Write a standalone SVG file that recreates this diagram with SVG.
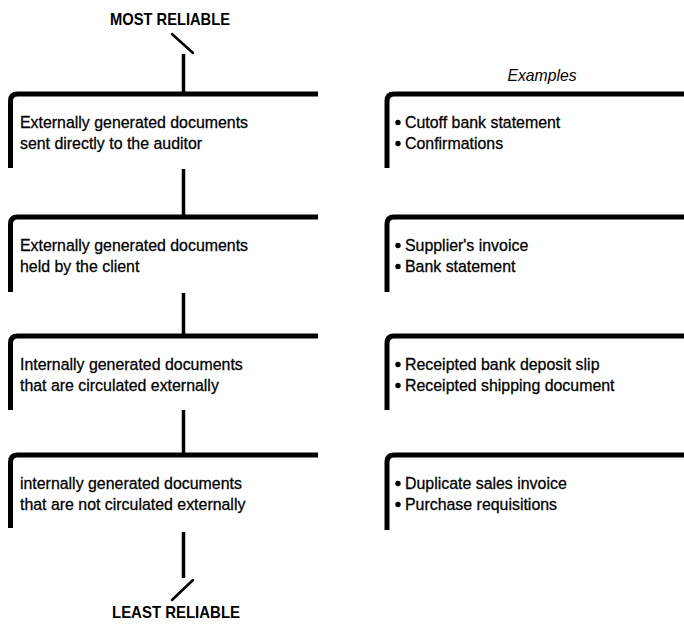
<svg xmlns="http://www.w3.org/2000/svg" width="684" height="624" viewBox="0 0 684 624">
  <style>
    .bg { fill: #ffffff; }
    .frame { fill: none; stroke: #000; stroke-width: 5; stroke-linecap: butt; stroke-linejoin: round; }
    .link { fill: none; stroke: #000; stroke-width: 3.5; stroke-linecap: butt; }
    .tick { fill: none; stroke: #000; stroke-width: 2.5; stroke-linecap: round; }
    .txt { font-family: "Liberation Sans", Arial, sans-serif; font-size: 17.3px; fill: #000; stroke: #000; stroke-width: 0.3; }
    .head { font-family: "Liberation Sans", Arial, sans-serif; font-size: 17px; font-weight: bold; fill: #000; text-anchor: middle; }
    .caption { font-family: "Liberation Sans", Arial, sans-serif; font-size: 17px; font-style: italic; fill: #000; text-anchor: middle; }
    .dot { fill: #000; }
  </style>
  <rect class="bg" x="0" y="0" width="684" height="624"/>

  <!-- scale end labels -->
  <g id="most-reliable">
    <text class="head" x="170" y="25" textLength="120" lengthAdjust="spacingAndGlyphs">MOST RELIABLE</text>
  </g>
  <g id="least-reliable">
    <text class="head" x="176" y="618" textLength="128" lengthAdjust="spacingAndGlyphs">LEAST RELIABLE</text>
  </g>
  <g id="examples-caption">
    <text class="caption" x="542" y="81" textLength="69" lengthAdjust="spacingAndGlyphs">Examples</text>
  </g>

  <!-- vertical ranking line -->
  <g id="connectors">
    <line class="tick" x1="172" y1="34" x2="193" y2="53"/>
    <line class="link" x1="183.5" y1="54" x2="183.5" y2="94"/>
    <line class="link" x1="183.5" y1="169" x2="183.5" y2="217"/>
    <line class="link" x1="183.5" y1="293" x2="183.5" y2="336"/>
    <line class="link" x1="183.5" y1="410" x2="183.5" y2="455"/>
    <line class="link" x1="183.5" y1="532" x2="183.5" y2="578"/>
    <line class="tick" x1="193" y1="580" x2="172" y2="600"/>
  </g>

  <!-- document categories (text set slightly condensed: x / 0.92) -->
  <g id="level-1">
    <path class="frame" d="M10.5,168 L10.5,101 Q10.5,94 17.5,94 L318,94"/>
    <g transform="scale(0.92 1)">
      <text class="txt" x="21.7" y="128">Externally generated documents</text>
      <text class="txt" x="21.7" y="149">sent directly to the auditor</text>
    </g>
  </g>
  <g id="level-2">
    <path class="frame" d="M10.5,292 L10.5,224 Q10.5,217 17.5,217 L318,217"/>
    <g transform="scale(0.92 1)">
      <text class="txt" x="21.7" y="251">Externally generated documents</text>
      <text class="txt" x="21.7" y="272">held by the client</text>
    </g>
  </g>
  <g id="level-3">
    <path class="frame" d="M10.5,410 L10.5,343 Q10.5,336 17.5,336 L318,336"/>
    <g transform="scale(0.92 1)">
      <text class="txt" x="21.7" y="370">Internally generated documents</text>
      <text class="txt" x="21.7" y="391">that are circulated externally</text>
    </g>
  </g>
  <g id="level-4">
    <path class="frame" d="M10.5,528 L10.5,462 Q10.5,455 17.5,455 L318,455"/>
    <g transform="scale(0.92 1)">
      <text class="txt" x="21.7" y="489">internally generated documents</text>
      <text class="txt" x="21.7" y="510">that are not circulated externally</text>
    </g>
  </g>

  <!-- examples for each category -->
  <g id="examples-1">
    <path class="frame" d="M387,168 L387,101 Q387,94 394,94 L684,94"/>
    <circle class="dot" cx="398" cy="122.5" r="2.7"/>
    <circle class="dot" cx="398" cy="143.5" r="2.7"/>
    <g transform="scale(0.92 1)">
      <text class="txt" x="440.2" y="128">Cutoff bank statement</text>
      <text class="txt" x="440.2" y="149">Confirmations</text>
    </g>
  </g>
  <g id="examples-2">
    <path class="frame" d="M387,292 L387,224 Q387,217 394,217 L684,217"/>
    <circle class="dot" cx="398" cy="245.5" r="2.7"/>
    <circle class="dot" cx="398" cy="266.5" r="2.7"/>
    <g transform="scale(0.92 1)">
      <text class="txt" x="440.2" y="251">Supplier's invoice</text>
      <text class="txt" x="440.2" y="272">Bank statement</text>
    </g>
  </g>
  <g id="examples-3">
    <path class="frame" d="M387,410 L387,343 Q387,336 394,336 L684,336"/>
    <circle class="dot" cx="398" cy="364.5" r="2.7"/>
    <circle class="dot" cx="398" cy="385.5" r="2.7"/>
    <g transform="scale(0.92 1)">
      <text class="txt" x="440.2" y="370">Receipted bank deposit slip</text>
      <text class="txt" x="440.2" y="391">Receipted shipping document</text>
    </g>
  </g>
  <g id="examples-4">
    <path class="frame" d="M387,530 L387,462 Q387,455 394,455 L684,455"/>
    <circle class="dot" cx="398" cy="483.5" r="2.7"/>
    <circle class="dot" cx="398" cy="504.5" r="2.7"/>
    <g transform="scale(0.92 1)">
      <text class="txt" x="440.2" y="489">Duplicate sales invoice</text>
      <text class="txt" x="440.2" y="510">Purchase requisitions</text>
    </g>
  </g>
</svg>
